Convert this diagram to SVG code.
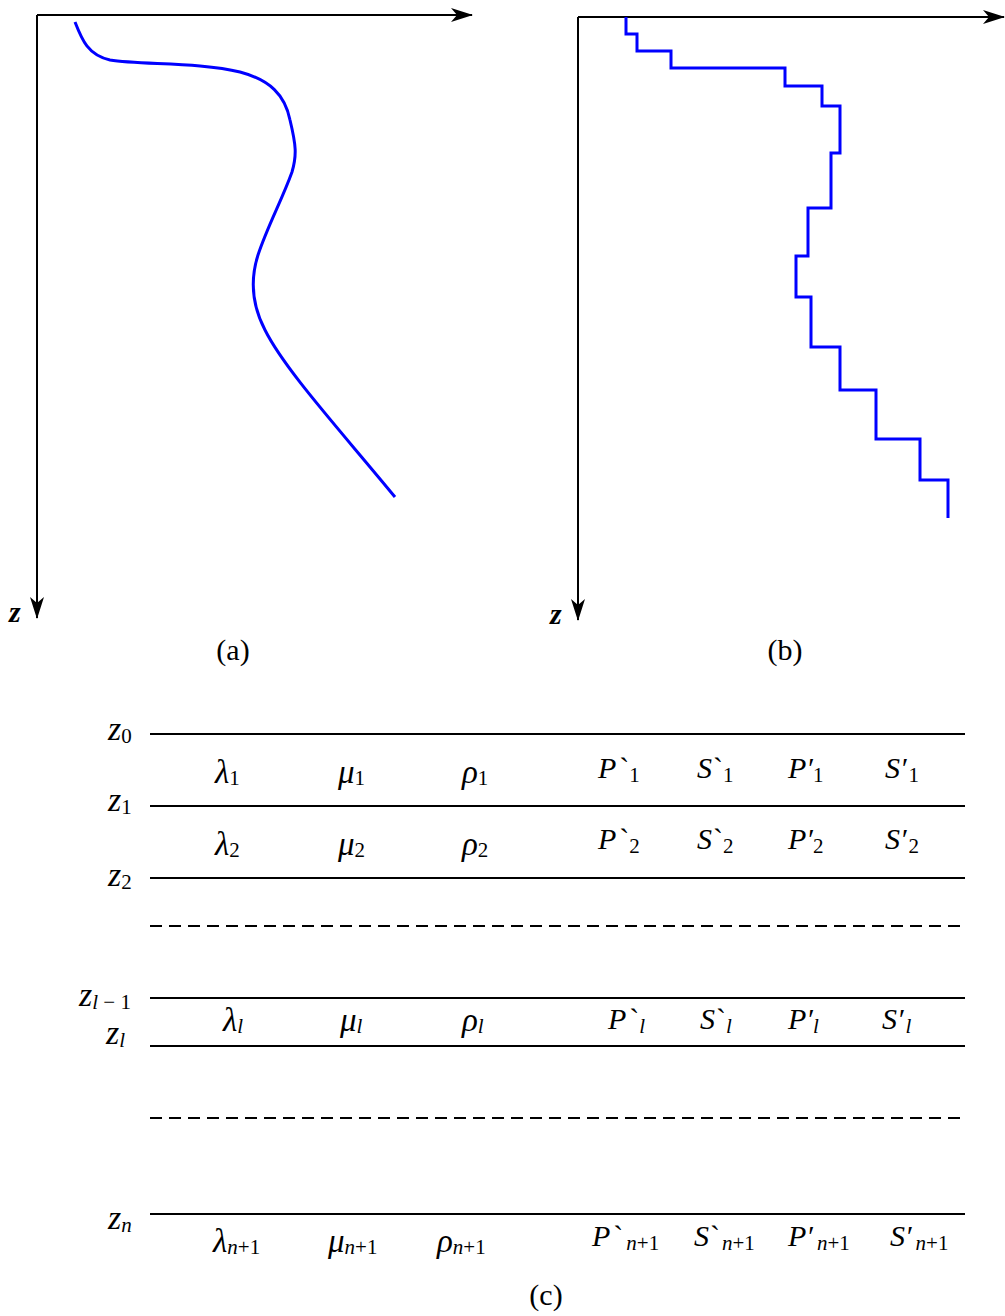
<svg xmlns="http://www.w3.org/2000/svg" width="1005" height="1316" viewBox="0 0 1005 1316">
<style>
.ax{stroke:#000;stroke-width:2;fill:none}
.cv{stroke:#0000ff;stroke-width:3;fill:none;stroke-linejoin:miter}
.ln{stroke:#000;stroke-width:2.2;fill:none}
.ds{stroke:#000;stroke-width:2.2;fill:none;stroke-dasharray:12,7}
.t{font-family:"Liberation Serif","Times New Roman",serif;font-size:30px;fill:#000}
.i{font-style:italic}
.g{font-size:33px}
.zl{font-size:34px;font-style:italic}
.za{font-size:30px;font-style:italic;font-weight:bold}
.s{font-size:21px;font-style:normal}
.si{font-size:21px;font-style:italic}
</style>
<defs>
<marker id="arr" viewBox="0 0 22 14" refX="21" refY="7" markerWidth="22" markerHeight="14" markerUnits="userSpaceOnUse" orient="auto">
<path d="M0,0 L22,7 L0,14 L6,7 Z" fill="#000"/>
</marker>
</defs>
<g id="panel-a">
<path class="ax" d="M37,15 L472,15" marker-end="url(#arr)"/>
<path class="ax" d="M37,15 L37,618" marker-end="url(#arr)"/>
<path class="cv" d="M75,22 C82,40 88,55 110,60 C140,65 200,62 240,72 C270,80 285,95 290,120 C296,145 297,155 292,172 C282,200 268,225 258,255 C250,280 252,305 265,330 C285,370 340,430 395,497"/>
<text class="t za" x="9" y="622">z</text>
<text class="t" x="233" y="660" text-anchor="middle">(a)</text>
</g>
<g id="panel-b">
<path class="ax" d="M578,17 L1004,17" marker-end="url(#arr)"/>
<path class="ax" d="M578,17 L578,620" marker-end="url(#arr)"/>
<path class="cv" d="M626,17 V34 H637 V51 H671 V68 H785 V86 H822 V106 H840 V153 H831 V208 H808 V256 H796 V297 H811 V347 H840 V390 H876 V439 H920 V480 H948 V518"/>
<text class="t za" x="550" y="624">z</text>
<text class="t" x="785" y="660" text-anchor="middle">(b)</text>
</g>
<g id="panel-c">
<g id="layers">
<line class="ln" x1="150" y1="734" x2="965" y2="734"/>
<line class="ln" x1="150" y1="806" x2="965" y2="806"/>
<line class="ln" x1="150" y1="878" x2="965" y2="878"/>
<line class="ds" x1="150" y1="926" x2="965" y2="926"/>
<line class="ln" x1="150" y1="998" x2="965" y2="998"/>
<line class="ln" x1="150" y1="1046" x2="965" y2="1046"/>
<line class="ds" x1="150" y1="1118" x2="965" y2="1118"/>
<line class="ln" x1="150" y1="1214" x2="965" y2="1214"/>
</g>
<g id="z-labels">
<text class="t zl" x="108" y="740">z<tspan class="s" dy="3">0</tspan></text>
<text class="t zl" x="108" y="811">z<tspan class="s" dy="3">1</tspan></text>
<text class="t zl" x="108" y="886">z<tspan class="s" dy="3">2</tspan></text>
<text class="t zl" x="79" y="1006">z<tspan class="si" dy="3">l</tspan><tspan class="s"> − 1</tspan></text>
<text class="t zl" x="106" y="1044">z<tspan class="si" dy="3">l</tspan></text>
<text class="t zl" x="108" y="1229">z<tspan class="si" dy="3">n</tspan></text>
</g>
<g id="row-1">
<text class="t i g" x="215" y="783">λ<tspan class="s" dy="2">1</tspan></text>
<text class="t i g" x="338" y="783">μ<tspan class="s" dy="2">1</tspan></text>
<text class="t i g" x="462" y="783">ρ<tspan class="s" dy="2">1</tspan></text>
<text class="t i" x="598" y="778">P<tspan font-style="normal" dx="3">`</tspan><tspan class="s" dy="4">1</tspan></text>
<text class="t i" x="697" y="778">S<tspan font-style="normal" dx="1">`</tspan><tspan class="s" dy="4">1</tspan></text>
<text class="t i" x="788" y="778">P′<tspan class="s" dy="4">1</tspan></text>
<text class="t i" x="885" y="778">S′<tspan class="s" dy="4" dx="2">1</tspan></text>
</g>
<g id="row-2">
<text class="t i g" x="215" y="855">λ<tspan class="s" dy="2">2</tspan></text>
<text class="t i g" x="338" y="855">μ<tspan class="s" dy="2">2</tspan></text>
<text class="t i g" x="462" y="855">ρ<tspan class="s" dy="2">2</tspan></text>
<text class="t i" x="598" y="849">P<tspan font-style="normal" dx="3">`</tspan><tspan class="s" dy="4">2</tspan></text>
<text class="t i" x="697" y="849">S<tspan font-style="normal" dx="1">`</tspan><tspan class="s" dy="4">2</tspan></text>
<text class="t i" x="788" y="849">P′<tspan class="s" dy="4">2</tspan></text>
<text class="t i" x="885" y="849">S′<tspan class="s" dy="4" dx="2">2</tspan></text>
</g>
<g id="row-l">
<text class="t i g" x="223" y="1031">λ<tspan class="si" dy="2">l</tspan></text>
<text class="t i g" x="340" y="1031">μ<tspan class="si" dy="2">l</tspan></text>
<text class="t i g" x="462" y="1031">ρ<tspan class="si" dy="2">l</tspan></text>
<text class="t i" x="608" y="1029">P<tspan font-style="normal" dx="3">`</tspan><tspan class="si" dy="4">l</tspan></text>
<text class="t i" x="700" y="1029">S<tspan font-style="normal" dx="1">`</tspan><tspan class="si" dy="4">l</tspan></text>
<text class="t i" x="788" y="1029">P′<tspan class="si" dy="4">l</tspan></text>
<text class="t i" x="882" y="1029">S′<tspan class="si" dy="4" dx="2">l</tspan></text>
</g>
<g id="row-n1">
<text class="t i g" x="213" y="1252">λ<tspan class="si" dy="2">n</tspan><tspan class="s">+1</tspan></text>
<text class="t i g" x="328" y="1252">μ<tspan class="si" dy="2">n</tspan><tspan class="s">+1</tspan></text>
<text class="t i g" x="437" y="1252">ρ<tspan class="si" dy="2">n</tspan><tspan class="s">+1</tspan></text>
<text class="t i" x="592" y="1246">P<tspan font-style="normal" dx="3">`</tspan><tspan class="si" dy="4" dx="3">n</tspan><tspan class="s">+1</tspan></text>
<text class="t i" x="694" y="1246">S<tspan font-style="normal" dx="1">`</tspan><tspan class="si" dy="4" dx="2">n</tspan><tspan class="s">+1</tspan></text>
<text class="t i" x="788" y="1246">P′<tspan class="si" dy="4" dx="4">n</tspan><tspan class="s">+1</tspan></text>
<text class="t i" x="890" y="1246">S′<tspan class="si" dy="4" dx="4">n</tspan><tspan class="s">+1</tspan></text>
</g>
<text class="t" x="546" y="1305" text-anchor="middle">(c)</text>
</g>
</svg>
